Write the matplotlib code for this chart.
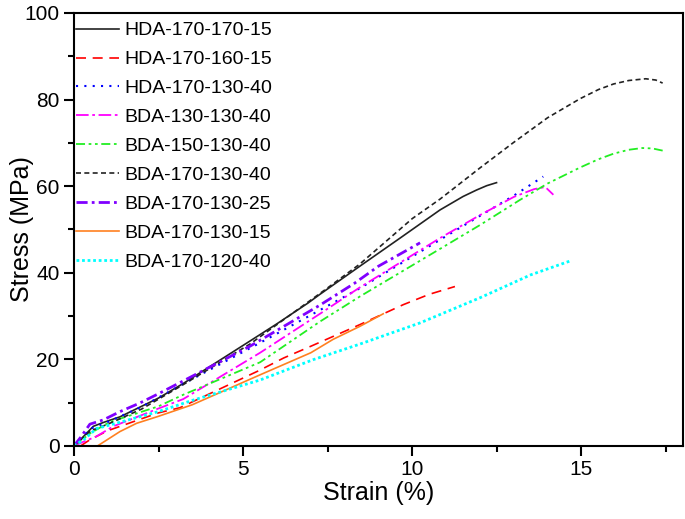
import numpy as np
import matplotlib.pyplot as plt

plt.rcParams['font.family'] = ['Liberation Sans', 'DejaVu Sans']

# strain (%) / stress (MPa)
hda_170_170_15_x = [0, 0.2, 0.57, 0.87, 1.36, 2.49, 3.23, 5.2, 6.0, 6.92, 7.27, 8.45, 9.64, 10.82, 11.5, 11.9, 12.2, 12.49]
hda_170_170_15_y = [0, 1.5, 4.5, 5.4, 6.7, 11.0, 14.4, 24.2, 28.2, 33.0, 35.0, 41.5, 48.0, 54.5, 57.6, 59.1, 60.1, 60.8]

hda_170_160_15_x = [0.2, 0.47, 1.0, 2.49, 3.13, 5.5, 6.2, 7.0, 8.45, 9.73, 10.5, 11.26]
hda_170_160_15_y = [0, 1.4, 3.5, 7.6, 8.8, 17.5, 20.3, 23.0, 28.0, 32.6, 35.0, 36.8]

hda_170_130_40_x = [0, 0.5, 1.0, 2.0, 3.23, 5.5, 8.45, 10.82, 11.8, 13.0, 13.87]
hda_170_130_40_y = [0, 4.0, 5.5, 9.0, 14.3, 23.8, 36.4, 47.6, 52.2, 57.8, 62.2]

bda_130_130_40_x = [0, 0.3, 0.67, 1.16, 2.49, 3.23, 5.5, 7.27, 8.45, 10.82, 12.0, 13.0, 13.6, 13.93, 14.17]
bda_130_130_40_y = [0, 1.0, 2.2, 4.5, 8.6, 10.8, 21.5, 30.5, 36.6, 48.0, 53.3, 57.5, 59.3, 59.8, 58.0]

bda_150_130_40_x = [0, 0.5, 1.06, 2.49, 3.23, 5.5, 7.27, 8.45, 10.82, 12.0, 13.18, 14.0, 14.96, 15.5, 15.95, 16.4, 16.8, 17.1, 17.4]
bda_150_130_40_y = [0, 3.0, 5.5, 9.1, 11.8, 19.3, 28.7, 34.5, 45.5, 51.0, 56.8, 60.6, 64.3, 66.2, 67.5, 68.4, 68.8, 68.7, 68.2]

bda_170_130_40_x = [0, 0.5, 1.0, 2.0, 3.2, 5.2, 7.5, 8.45, 10.0, 10.82, 12.0, 12.98, 14.0, 14.96, 15.5, 15.95, 16.4, 16.9, 17.2, 17.4]
bda_170_130_40_y = [0, 3.5, 5.0, 8.5, 14.0, 23.5, 36.5, 42.0, 52.5, 57.0, 64.2, 70.0, 75.8, 80.2, 82.3, 83.6, 84.4, 84.8, 84.5, 83.8]

bda_170_130_25_x = [0, 0.2, 0.47, 0.87, 1.36, 1.95, 2.49, 3.23, 5.2, 7.27, 8.3, 9.0, 10.23]
bda_170_130_25_y = [0, 2.0, 5.0, 6.0, 7.9, 9.9, 12.0, 15.0, 23.0, 32.5, 37.6, 41.5, 46.9]

bda_170_130_15_x = [0.7, 1.0, 1.36, 1.85, 2.49, 3.5, 5.5, 7.0, 7.66, 8.45, 9.14]
bda_170_130_15_y = [0, 1.5, 3.3, 5.2, 6.8, 9.5, 16.4, 21.5, 24.6, 27.6, 30.5]

bda_170_120_40_x = [0, 0.3, 0.67, 1.06, 2.49, 3.5, 5.5, 7.07, 8.45, 10.23, 12.0, 13.5, 14.7]
bda_170_120_40_y = [0, 1.5, 4.0, 4.8, 7.9, 10.5, 15.2, 19.9, 23.5, 28.4, 34.2, 39.5, 42.8]

fig = plt.figure(figsize=(6.85, 5.19), dpi=100)
ax = fig.add_axes([0.108, 0.141, 0.889, 0.834])

ax.plot(hda_170_170_15_x, hda_170_170_15_y, color='#222222', lw=1.2, ls='-', label='HDA-170-170-15')
ax.plot(hda_170_160_15_x, hda_170_160_15_y, color='#ff0000', lw=1.2, ls=(0, (6, 4)), label='HDA-170-160-15')
ax.plot(hda_170_130_40_x, hda_170_130_40_y, color='#0000ff', lw=1.5, ls=(0, (1, 3)), label='HDA-170-130-40')
ax.plot(bda_130_130_40_x, bda_130_130_40_y, color='#ff00ff', lw=1.3, ls=(0, (7, 2, 1.5, 2)), label='BDA-130-130-40')
ax.plot(bda_150_130_40_x, bda_150_130_40_y, color='#22ee22', lw=1.3, ls=(0, (5, 2, 1.5, 2, 1.5, 2)), label='BDA-150-130-40')
ax.plot(bda_170_130_40_x, bda_170_130_40_y, color='#222222', lw=1.2, ls=(0, (3, 2)), label='BDA-170-130-40')
ax.plot(bda_170_130_25_x, bda_170_130_25_y, color='#8000ff', lw=2.0, ls=(0, (4, 1.5, 1, 1.5)), label='BDA-170-130-25')
ax.plot(bda_170_130_15_x, bda_170_130_15_y, color='#ff8020', lw=1.2, ls='-', label='BDA-170-130-15')
ax.plot(bda_170_120_40_x, bda_170_120_40_y, color='#00ffff', lw=2.0, ls=(0, (1, 1)), label='BDA-170-120-40')

ax.set_xlim(0, 18)
ax.set_ylim(0, 100)
ax.set_xticks([0, 5, 10, 15])
ax.set_xticks([2.5, 7.5, 12.5, 17.5], minor=True)
ax.set_yticks([0, 20, 40, 60, 80, 100])
ax.set_yticks([10, 30, 50, 70, 90], minor=True)
ax.tick_params(which='major', direction='out', length=7, width=1.5, labelsize=15)
ax.tick_params(which='minor', direction='out', length=4, width=1.5)
for s in ax.spines.values():
    s.set_linewidth(1.5)

ax.set_xlabel('Strain (%)', fontsize=18, labelpad=1)
ax.set_ylabel('Stress (MPa)', fontsize=18)
ax.yaxis.set_label_coords(-0.066, 0.5)

ax.legend(loc='upper left', bbox_to_anchor=(0.0, 0.984), frameon=False, fontsize=14,
          handlelength=2.2, handletextpad=0.3, labelspacing=0.58, borderpad=0.1,
          borderaxespad=0.0)

plt.savefig('out.png', dpi=100)
